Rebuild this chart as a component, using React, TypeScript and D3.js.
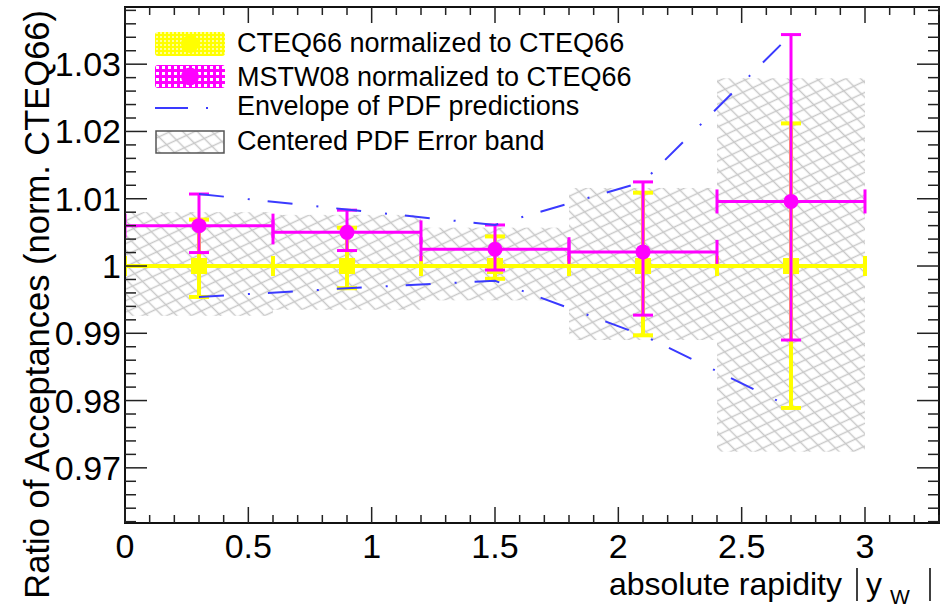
import React from "react";
import * as d3 from "d3";

// ---- data ----
const binLow = [0, 0.6, 1.2, 1.8, 2.4];
const binHigh = [0.6, 1.2, 1.8, 2.4, 3.0];
const binCenter = [0.3, 0.9, 1.5, 2.1, 2.7];

const cteqVal = [1, 1, 1, 1, 1];
const cteqUp = [1.0069, 1.0057, 1.0044, 1.0109, 1.0212];
const cteqDown = [0.9954, 0.9967, 0.9981, 0.9897, 0.9789];

const mstwVal = [1.006, 1.005, 1.0025, 1.0021, 1.0096];
const mstwUp = [1.0107, 1.0083, 1.0061, 1.0125, 1.0344];
const mstwDown = [1.002, 1.0023, 0.9994, 0.9927, 0.989];

const envUp = [1.0107, 1.0084, 1.0061, 1.0125, 1.0344];
const envDown = [0.9954, 0.9967, 0.9978, 0.9897, 0.979];

const bandLow = [0.9926, 0.9935, 0.9949, 0.989, 0.9724];
const bandHigh = [1.008, 1.0076, 1.0057, 1.0116, 1.0279];

const xTickLabels = ["0", "0.5", "1", "1.5", "2", "2.5", "3"];
const yTickLabels = ["0.97", "0.98", "0.99", "1", "1.01", "1.02", "1.03"];

const legendLabels = [
  "CTEQ66 normalized to CTEQ66",
  "MSTW08 normalized to CTEQ66",
  "Envelope of PDF predictions",
  "Centered PDF Error band",
];

const W = 949;
const H = 609;
const FL = 125, FR = 939, FT = 7, FB = 523;

const YELLOW = "#ffff00";
const MAGENTA = "#ff00ff";
const BLUE = "#3a3aff";
const FONT = "'Liberation Sans', Arial, Helvetica, sans-serif";

export default function App() {
  const x = d3.scaleLinear().domain([0, 3.3]).range([FL, FR]);
  const y = d3.scaleLinear().domain([0.9618, 1.0385]).range([FB, FT]);

  const xMajor = d3.range(0, 3.0001, 0.5);
  const xMinor = d3.range(0, 3.3001, 0.1).filter((v) => Math.abs(v / 0.5 - Math.round(v / 0.5)) > 1e-6);
  const yMajor = yTickLabels.map(Number);
  const yMinor = d3
    .range(0.962, 1.0385, 0.002)
    .filter((v) => Math.abs(v / 0.01 - Math.round(v / 0.01)) > 1e-6);

  const envLine = d3
    .line<number>()
    .x((_, i) => x(binCenter[i]))
    .y((d) => y(d));

  const idx = d3.range(binLow.length);

  return (
    <svg
      width={W}
      height={H}
      style={{ position: "absolute", left: 0, top: 0, background: "#fff" }}
      fontFamily={FONT}
    >
      <defs>
        <pattern
          id="xhatch"
          patternUnits="userSpaceOnUse"
          width={11}
          height={11}
          patternTransform="matrix(0.906,-0.423,0.707,0.707,0,0)"
        >
          <path d="M0 5.5H11M5.5 0V11" stroke="#c8c8c8" strokeWidth={1.5} />
        </pattern>
        <pattern id="ypat" patternUnits="userSpaceOnUse" width={4} height={4}>
          <rect width={4} height={4} fill={YELLOW} />
          <rect width={2} height={2} fill="#ffff99" />
        </pattern>
        <pattern id="mpat" patternUnits="userSpaceOnUse" width={6} height={6}>
          <rect width={6} height={6} fill={MAGENTA} />
          <rect width={3} height={3} fill="#ffffff" />
        </pattern>
        <clipPath id="frameClip">
          <rect x={FL} y={FT} width={FR - FL} height={FB - FT} />
        </clipPath>
      </defs>

      <rect x={0} y={0} width={W} height={H} fill="#fff" />

      <g clipPath="url(#frameClip)">
        {/* centered PDF error bands */}
        {idx.map((i) => (
          <rect
            key={"band" + i}
            x={x(binLow[i])}
            y={y(bandHigh[i])}
            width={x(binHigh[i]) - x(binLow[i])}
            height={y(bandLow[i]) - y(bandHigh[i])}
            fill="url(#xhatch)"
          />
        ))}

        {/* CTEQ66 (yellow) */}
        {idx.map((i) => {
          const cx = x(binCenter[i]);
          const cy = y(cteqVal[i]);
          return (
            <g key={"c" + i} stroke={YELLOW} strokeWidth={4}>
              <line x1={x(binLow[i])} x2={x(binHigh[i])} y1={cy} y2={cy} />
              <line x1={x(binLow[i])} x2={x(binLow[i])} y1={cy - 10} y2={cy + 10} />
              <line x1={x(binHigh[i])} x2={x(binHigh[i])} y1={cy - 10} y2={cy + 10} />
              <line x1={cx} x2={cx} y1={y(cteqUp[i])} y2={y(cteqDown[i])} />
              <line x1={cx - 10} x2={cx + 10} y1={y(cteqUp[i])} y2={y(cteqUp[i])} />
              <line x1={cx - 10} x2={cx + 10} y1={y(cteqDown[i])} y2={y(cteqDown[i])} />
              <rect x={cx - 8} y={cy - 8} width={16} height={16} fill={YELLOW} stroke="none" />
            </g>
          );
        })}

        {/* MSTW08 (magenta) */}
        {idx.map((i) => {
          const cx = x(binCenter[i]);
          const cy = y(mstwVal[i]);
          return (
            <g key={"m" + i} stroke={MAGENTA} strokeWidth={3}>
              <line x1={x(binLow[i])} x2={x(binHigh[i])} y1={cy} y2={cy} />
              <line x1={x(binLow[i])} x2={x(binLow[i])} y1={cy - 12} y2={cy + 12} />
              <line x1={x(binHigh[i])} x2={x(binHigh[i])} y1={cy - 12} y2={cy + 12} />
              <line x1={cx} x2={cx} y1={y(mstwUp[i])} y2={y(mstwDown[i])} />
              <line x1={cx - 10} x2={cx + 10} y1={y(mstwUp[i])} y2={y(mstwUp[i])} />
              <line x1={cx - 10} x2={cx + 10} y1={y(mstwDown[i])} y2={y(mstwDown[i])} />
              <circle cx={cx} cy={cy} r={7.5} fill={MAGENTA} stroke="none" />
            </g>
          );
        })}

        {/* envelope */}
        <path d={envLine(envUp) || ""} fill="none" stroke={BLUE} strokeWidth={2} strokeDasharray="25,24,2,18" />
        <path d={envLine(envDown) || ""} fill="none" stroke={BLUE} strokeWidth={2} strokeDasharray="25,24,2,18" />
      </g>

      {/* frame */}
      <rect x={FL} y={FT} width={FR - FL} height={FB - FT} fill="none" stroke="#111" strokeWidth={2} />

      {/* ticks */}
      <g stroke="#222" strokeWidth={1.5}>
        {xMajor.map((v) => (
          <g key={"xM" + v}>
            <line x1={x(v)} x2={x(v)} y1={FB} y2={FB - 16} />
            <line x1={x(v)} x2={x(v)} y1={FT} y2={FT + 16} />
          </g>
        ))}
        {xMinor.map((v) => (
          <g key={"xm" + v}>
            <line x1={x(v)} x2={x(v)} y1={FB} y2={FB - 8} />
            <line x1={x(v)} x2={x(v)} y1={FT} y2={FT + 8} />
          </g>
        ))}
        {yMajor.map((v) => (
          <g key={"yM" + v}>
            <line x1={FL} x2={FL + 22} y1={y(v)} y2={y(v)} />
            <line x1={FR} x2={FR - 22} y1={y(v)} y2={y(v)} />
          </g>
        ))}
        {yMinor.map((v) => (
          <g key={"ym" + v}>
            <line x1={FL} x2={FL + 11} y1={y(v)} y2={y(v)} />
            <line x1={FR} x2={FR - 11} y1={y(v)} y2={y(v)} />
          </g>
        ))}
      </g>

      {/* tick labels */}
      <g fontSize={34} fill="#000">
        {xTickLabels.map((t) => (
          <text key={"xl" + t} x={x(+t)} y={558} textAnchor="middle">
            {t}
          </text>
        ))}
        {yTickLabels.map((t) => (
          <text key={"yl" + t} x={121} y={y(+t) + 12} textAnchor="end">
            {t}
          </text>
        ))}
      </g>

      {/* axis titles */}
      <text x={49} y={10} fontSize={34.5} textAnchor="end" transform={`rotate(-90, 49, 10)`}>
        Ratio of Acceptances (norm. CTEQ66)
      </text>
      <text x={842} y={595} fontSize={32} textAnchor="end">
        absolute rapidity
      </text>
      <line x1={857} x2={857} y1={568} y2={601} stroke="#000" strokeWidth={1.5} />
      <text x={866} y={595} fontSize={32}>y</text>
      <text x={890} y={604} fontSize={21}>W</text>
      <line x1={930} x2={930} y1={568} y2={601} stroke="#000" strokeWidth={1.5} />

      {/* legend */}
      <g>
        <rect x={155} y={32} width={70} height={24} rx={3} fill="url(#ypat)" />
        <circle cx={190} cy={44} r={9} fill={YELLOW} />
        <rect x={155} y={65} width={70} height={23} rx={3} fill="url(#mpat)" />
        <circle cx={190} cy={76.5} r={9} fill={MAGENTA} />
        <line x1={155} x2={225} y1={108} y2={108} stroke={BLUE} strokeWidth={2} strokeDasharray="33,18,2,50" />
        <rect x={156} y={131} width={68} height={22} fill="url(#xhatch)" stroke="#555" strokeWidth={1.5} />
        <g fontSize={27} fill="#000">
          <text x={237} y={52}>{legendLabels[0]}</text>
          <text x={237} y={86}>{legendLabels[1]}</text>
          <text x={237} y={115}>{legendLabels[2]}</text>
          <text x={237} y={150}>{legendLabels[3]}</text>
        </g>
      </g>
    </svg>
  );
}
